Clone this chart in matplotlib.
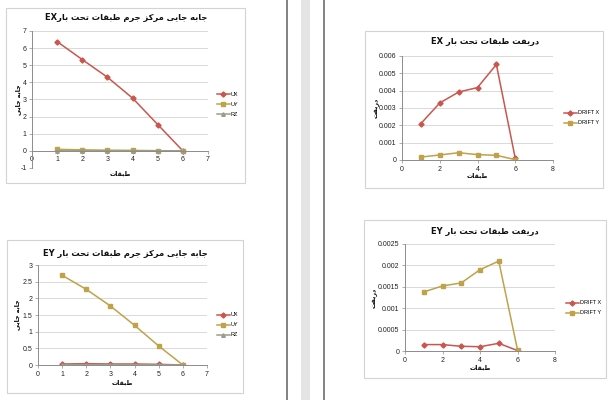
import re
import matplotlib
matplotlib.use("Agg")
import matplotlib.pyplot as plt
from matplotlib.patches import Rectangle

W, H = 612, 400

# --- data ---
stories = [1, 2, 3, 4, 5, 6]

ex_ux = [6.38, 5.33, 4.30, 3.08, 1.54, 0.0]
ex_uy = [0.09, 0.06, 0.04, 0.03, 0.01, 0.0]
ex_rz = [0.004, 0.003, 0.002, 0.002, 0.001, 0.0]

ey_ux = [0.03, 0.04, 0.03, 0.03, 0.02, 0.0]
ey_uy = [2.69, 2.27, 1.77, 1.19, 0.57, 0.0]
ey_rz = [0.01, 0.01, 0.01, 0.01, 0.005, 0.0]

ex_driftx = [0.00210, 0.00329, 0.00392, 0.00418, 0.00551, 0.00010]
ex_drifty = [0.00017, 0.00029, 0.00042, 0.00031, 0.00027, 0.00002]

ey_driftx = [0.00015, 0.00015, 0.00011, 0.00010, 0.00018, 0.00001]
ey_drifty = [0.00138, 0.00152, 0.00159, 0.00190, 0.00210, 0.00003]

disp_labels = ["UX", "UY", "RZ"]
drift_labels = ["DRIFT X", "DRIFT Y"]

title_ex_disp = "جابه جایی مرکز جرم طبقات تحت بارEX"
title_ey_disp = "جابه جایی مرکز جرم طبقات تحت بار EY"
title_ex_drift = "دریفت طبقات تحت بار EX"
title_ey_drift = "دریفت طبقات تحت بار EY"
xlab = "طبقات"
ylab_disp = "جابه جایی"
ylab_drift = "دریفت"

ticks_disp_ex = [-1, 0, 1, 2, 3, 4, 5, 6, 7]
ticks_disp_ey = [0, 0.5, 1, 1.5, 2, 2.5, 3]
ticklab_disp_ey = ["0", "0.5", "1", "1.5", "2", "2.5", "3"]
ticks_drift_ex = [0, 0.001, 0.002, 0.003, 0.004, 0.005, 0.006]
ticklab_drift_ex = ["0", "0.001", "0.002", "0.003", "0.004", "0.005", "0.006"]
ticks_drift_ey = [0, 0.0005, 0.001, 0.0015, 0.002, 0.0025]
ticklab_drift_ey = ["0", "0.0005", "0.001", "0.0015", "0.002", "0.0025"]

RED = "#C9574E"
GOLD = "#BFA24A"
GREY = "#9C9C88"

# matplotlib has no arabic shaping, so pick the presentation forms by hand
FORMS = {
    "ا": ("\uFE8D", "\uFE8E", None, None),
    "ب": ("\uFE8F", "\uFE90", "\uFE91", "\uFE92"),
    "ت": ("\uFE95", "\uFE96", "\uFE97", "\uFE98"),
    "ج": ("\uFE9D", "\uFE9E", "\uFE9F", "\uFEA0"),
    "ح": ("\uFEA1", "\uFEA2", "\uFEA3", "\uFEA4"),
    "د": ("\uFEA9", "\uFEAA", None, None),
    "ر": ("\uFEAD", "\uFEAE", None, None),
    "ز": ("\uFEAF", "\uFEB0", None, None),
    "ط": ("\uFEC1", "\uFEC2", "\uFEC3", "\uFEC4"),
    "ف": ("\uFED1", "\uFED2", "\uFED3", "\uFED4"),
    "ق": ("\uFED5", "\uFED6", "\uFED7", "\uFED8"),
    "م": ("\uFEE1", "\uFEE2", "\uFEE3", "\uFEE4"),
    "ه": ("\uFEE9", "\uFEEA", "\uFEEB", "\uFEEC"),
    "ی": ("\uFBFC", "\uFBFD", "\uFBFE", "\uFBFF"),
    "ک": ("\uFB8E", "\uFB8F", "\uFB90", "\uFB91"),
}


def fa(text):
    out = []
    for i, ch in enumerate(text):
        if ch not in FORMS:
            out.append(ch)
            continue
        prev = text[i - 1] if i > 0 else ""
        nxt = text[i + 1] if i + 1 < len(text) else ""
        iso, fin, ini, med = FORMS[ch]
        jp = prev in FORMS and FORMS[prev][2] is not None
        jn = ini is not None and nxt in FORMS
        if jp and jn:
            out.append(med)
        elif jp:
            out.append(fin)
        elif jn:
            out.append(ini)
        else:
            out.append(iso)
    shaped = "".join(out)
    parts = re.findall(r"[A-Za-z0-9]+|[^A-Za-z0-9]+", shaped)
    return "".join(p if p[0].isascii() and p[0].isalnum() else p[::-1]
                   for p in reversed(parts))


def fx(x):
    return x / W


def fy(y):
    return 1 - y / H


fig = plt.figure(figsize=(W / 100, H / 100), dpi=100)
fig.patch.set_facecolor("white")

# page edges of the document view
fig.add_artist(Rectangle((fx(286), 0), 2 / W, 1, transform=fig.transFigure,
                         color="#858585", lw=0))
fig.add_artist(Rectangle((fx(301), 0), 9 / W, 1, transform=fig.transFigure,
                         color="#E4E4E4", lw=0))
fig.add_artist(Rectangle((fx(323), 0), 2 / W, 1, transform=fig.transFigure,
                         color="#858585", lw=0))


def chart(frame, box, title_xy, title, series, labels, markers, colors,
          xlim, xticks, ylim, yticks, yticklabels, ylabel, xlab_y, ylab_x, leg_xy):
    x0, y0, x1, y1 = frame
    fig.add_artist(Rectangle((fx(x0), fy(y1)), (x1 - x0) / W, (y1 - y0) / H,
                             transform=fig.transFigure, fill=False,
                             ec="#D3D3D3", lw=0.8))
    a0, b0, a1, b1 = box
    ax = fig.add_axes([fx(a0), fy(b1), (a1 - a0) / W, (b1 - b0) / H])
    for vals, lab, mk, col in zip(series, labels, markers, colors):
        ax.plot(stories, vals, color=col, lw=1.1, marker=mk, ms=2.6,
                mfc=col, mec=col, label=lab)
    ax.set_xlim(*xlim)
    ax.set_ylim(*ylim)
    ax.set_xticks(xticks)
    ax.set_yticks(yticks)
    ax.set_yticklabels(yticklabels)
    for s in ["top", "right"]:
        ax.spines[s].set_visible(False)
    ax.spines["bottom"].set_position(("data", 0))
    for s in ["left", "bottom"]:
        ax.spines[s].set_color("#8C8C8C")
        ax.spines[s].set_linewidth(0.7)
    ax.yaxis.grid(True, color="#D9D9D9", lw=0.7)
    ax.set_axisbelow(True)
    ax.tick_params(labelsize=5, length=2, width=0.5, color="#8C8C8C",
                   pad=2, labelcolor="#222222")
    for t in ax.get_xticklabels() + ax.get_yticklabels():
        t.set_family(["Liberation Sans", "DejaVu Sans"])
    fig.text(fx(title_xy[0]), fy(title_xy[1]), fa(title), ha="center",
             va="center", fontsize=6, fontweight="bold",
             family=["DejaVu Sans"], color="#111111")
    fig.text(fx((a0 + a1) / 2), fy(xlab_y), fa(xlab), ha="center",
             va="center", fontsize=4.5, fontweight="bold", family=["DejaVu Sans"])
    fig.text(fx(ylab_x), fy((b0 + b1) / 2), fa(ylabel), ha="center",
             va="center", rotation=90, fontsize=4.5, fontweight="bold",
             family=["DejaVu Sans"])
    ax.legend(loc="center left", bbox_to_anchor=(fx(leg_xy[0]), fy(leg_xy[1])),
              bbox_transform=fig.transFigure, frameon=False,
              prop={"size": 4, "family": "Liberation Sans"},
              handlelength=2.3, handletextpad=0.2, labelspacing=0.9,
              borderpad=0, borderaxespad=0)
    return ax


chart((6, 8, 245, 183), (32, 31, 208, 168), (126, 18), title_ex_disp,
      [ex_ux, ex_uy, ex_rz], disp_labels, ["D", "s", "^"], [RED, GOLD, GREY],
      (0, 7), range(0, 8), (-1, 7), ticks_disp_ex,
      [str(t) for t in ticks_disp_ex], ylab_disp, 173, 18, (217, 104))

chart((365, 31, 603, 188), (402, 56, 553, 160), (485, 42), title_ex_drift,
      [ex_driftx, ex_drifty], drift_labels, ["D", "s"], [RED, GOLD],
      (0, 8), range(0, 9, 2), (0, 0.006), ticks_drift_ex, ticklab_drift_ex,
      ylab_drift, 175, 377, (564, 118))

chart((7, 240, 243, 393), (38, 265, 207, 365), (125, 253), title_ey_disp,
      [ey_ux, ey_uy, ey_rz], disp_labels, ["D", "s", "^"], [RED, GOLD, GREY],
      (0, 7), range(0, 8), (0, 3), ticks_disp_ey, ticklab_disp_ey,
      ylab_disp, 382, 17, (217, 325))

chart((364, 220, 606, 378), (405, 244, 555, 351), (485, 231), title_ey_drift,
      [ey_driftx, ey_drifty], drift_labels, ["D", "s"], [RED, GOLD],
      (0, 8), range(0, 9, 2), (0, 0.0025), ticks_drift_ey, ticklab_drift_ey,
      ylab_drift, 367, 375, (566, 308))

fig.savefig("out.png", dpi=100)
